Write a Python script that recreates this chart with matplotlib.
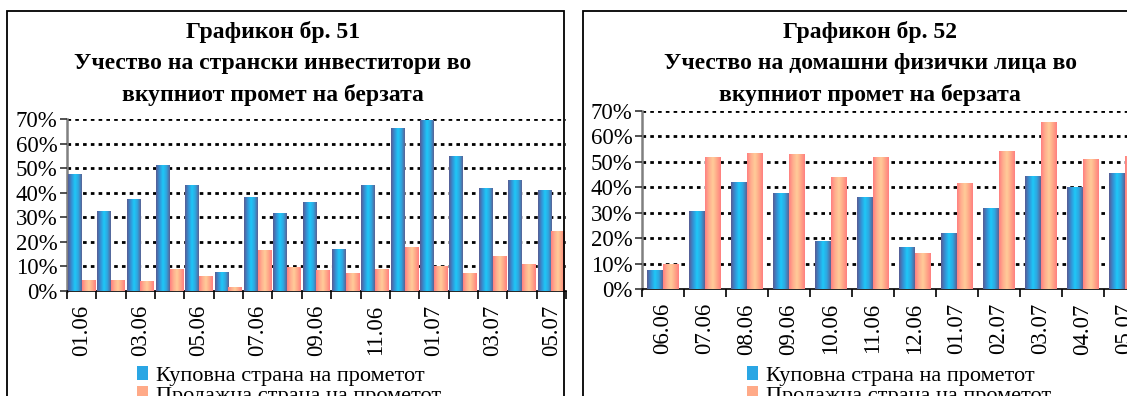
import numpy as np
import matplotlib
matplotlib.use('Agg')
import matplotlib.pyplot as plt
from matplotlib.patches import Rectangle, Patch
from matplotlib.colors import LinearSegmentedColormap

plt.rcParams['font.family'] = ['Liberation Serif', 'DejaVu Serif']

# Графикон 51 - странски инвеститори
months51 = ['01.06', '02.06', '03.06', '04.06', '05.06', '06.06', '07.06', '08.06', '09.06',
            '10.06', '11.06', '12.06', '01.07', '02.07', '03.07', '04.07', '05.07']
buy51 = [47.6, 32.5, 37.4, 51.3, 43.2, 7.6, 38.2, 31.7, 36.2, 17.0, 43.2, 66.4, 69.7, 55.0, 42.0, 45.3, 41.2]
sell51 = [4.4, 4.4, 4.0, 8.9, 6.0, 1.5, 16.6, 9.7, 8.5, 7.2, 8.9, 17.8, 10.1, 7.2, 14.1, 10.9, 24.3]

# Графикон 52 - домашни физички лица
months52 = ['06.06', '07.06', '08.06', '09.06', '10.06', '11.06', '12.06',
            '01.07', '02.07', '03.07', '04.07', '05.07']
buy52 = [7.6, 30.7, 42.1, 37.8, 19.0, 36.2, 16.6, 22.1, 31.9, 44.5, 40.2, 45.6]
sell52 = [9.9, 51.9, 53.5, 53.1, 44.1, 51.9, 14.3, 41.7, 54.3, 65.8, 51.2, 52.4]

titles = [['Графикон бр. 51', 'Учество на странски инвеститори во', 'вкупниот промет на берзата'],
          ['Графикон бр. 52', 'Учество на домашни физички лица во', 'вкупниот промет на берзата']]
legend_labels = ['Куповна страна на прометот', 'Продажна страна на прометот']

W, H = 1127, 396
fig = plt.figure(figsize=(W / 100, H / 100), dpi=100)

blue_cmap = LinearSegmentedColormap.from_list('b', ['#585c94', '#3590d4', '#1ec8f8', '#2fa6e0', '#5a6296'])
orange_cmap = LinearSegmentedColormap.from_list('o', ['#ff8080', '#ffae8e', '#ffcc99', '#ffa888', '#ff8080'])
grad = np.linspace(0, 1, 64).reshape(1, -1)


def px_axes(x0, x1, ytop, ybot):
    return fig.add_axes([x0 / W, (H - ybot) / H, (x1 - x0) / W, (ybot - ytop) / H])


def gradient_bars(ax, x, vals, width, cmap):
    bars = ax.bar(x, vals, width, color='none', edgecolor='none', zorder=3)
    for b in bars:
        im = ax.imshow(grad, cmap=cmap, aspect='auto', zorder=3,
                       extent=[b.get_x(), b.get_x() + b.get_width(), 0, b.get_height()])
        im.set_clip_path(b)
    return bars


def draw_chart(ax, months, buy, sell, bw, every):
    n = len(months)
    x = np.arange(n)
    gradient_bars(ax, x - bw / 2, buy, bw, blue_cmap)
    gradient_bars(ax, x + bw / 2, sell, bw, orange_cmap)
    ax.set_xlim(-0.5, n - 0.5)
    ax.set_ylim(0, 70)
    ax.set_yticks(range(0, 71, 10))
    ax.set_yticklabels([f'{v}%' for v in range(0, 71, 10)], fontsize=16.5)
    for v in range(10, 71, 10):
        ax.axhline(v, color='black', lw=2.0, ls=(0, (1.3, 1.5)), zorder=1)
    ax.set_xticks(x[::every])
    ax.set_xticklabels(months[::every], rotation=90, fontsize=16.5)
    ax.set_xticks(np.arange(n + 1) - 0.5, minor=True)
    ax.tick_params(axis='x', which='major', length=0, pad=10)
    ax.tick_params(axis='x', which='minor', length=6, width=1.2, direction='out')
    ax.tick_params(axis='y', length=5, width=1.2, direction='out', pad=2, color='#333333')
    for s in ['top', 'right']:
        ax.spines[s].set_visible(False)
    ax.spines['left'].set_color('#808080')
    ax.spines['left'].set_linewidth(1.8)
    ax.spines['bottom'].set_color('black')
    ax.spines['bottom'].set_linewidth(1.2)
    ax.set_facecolor('none')
    ax.set_axisbelow(False)


# левиот графикон
ax1 = px_axes(67, 566, 119.3, 290.7)
draw_chart(ax1, months51, buy51, sell51, 0.47, 2)
# десниот графикон (излегува надвор од сликата)
ax2 = px_axes(642, 1146, 111, 289.3)
draw_chart(ax2, months52, buy52, sell52, 0.38, 1)

# рамки
fig.patches.append(Rectangle((7 / W, -0.1), (564 - 7) / W, (H - 11) / H + 0.1, transform=fig.transFigure,
                             fill=False, edgecolor='black', lw=1.3, zorder=10))
fig.patches.append(Rectangle((583 / W, -0.1), 0.6, (H - 11) / H + 0.1, transform=fig.transFigure,
                             fill=False, edgecolor='black', lw=1.3, zorder=10))

# наслови
for cx, lines in zip([273, 870], titles):
    for y, t in zip([32, 64, 95], lines):
        fig.text(cx / W, 1 - y / H, t, ha='center', va='center', fontsize=17, fontweight='bold')

handles = [Patch(facecolor='#2aa6e4', edgecolor='none'), Patch(facecolor='#ffaa88', edgecolor='none')]
for x0 in [137, 747]:
    fig.legend(handles, legend_labels, loc='upper left', bbox_to_anchor=(x0 / W, 1 - 366 / H),
               frameon=False, fontsize=16, handlelength=0.5, handleheight=0.6, handletextpad=0.35,
               labelspacing=0.0, borderpad=0, borderaxespad=0)

fig.savefig('out.png', dpi=100)
